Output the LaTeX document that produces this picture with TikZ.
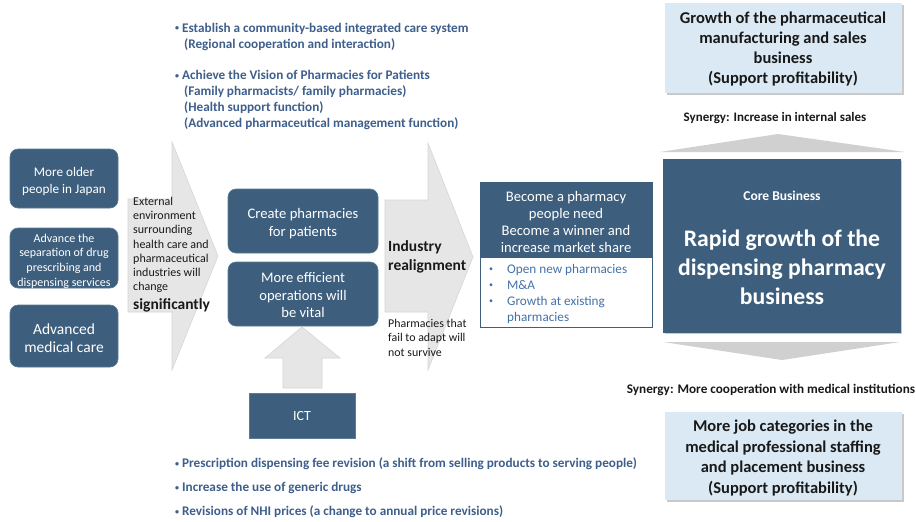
\documentclass[tikz,border=0pt]{standalone}
\usepackage{fontspec}
\setmainfont{Carlito}
\usetikzlibrary{shadows}
\definecolor{navy}{HTML}{3D5F7D}
\definecolor{navyedge}{HTML}{5A7A96}
\definecolor{listblue}{HTML}{3E5F8C}
\definecolor{bulletblue}{HTML}{4472A8}
\definecolor{paleblue}{HTML}{DAE9F3}
\definecolor{arrowgray}{HTML}{E6E6E6}
\definecolor{arrowedge}{HTML}{D6D6D6}
\definecolor{chevgray}{HTML}{D0D0D0}
\newcommand{\fs}[2]{\fontsize{#1}{#2}\selectfont}
\newcommand{\smallbul}{\raisebox{0.2ex}{\fs{8}{8}•}}
\tikzset{
  darkround/.style={fill=navy, draw=navyedge, line width=0.6pt, rounded corners=8pt},
  darkbox/.style={fill=navy, draw=navyedge, line width=0.6pt},
  softshadow/.style={drop shadow={shadow xshift=2pt, shadow yshift=-2pt, opacity=0.35, fill=black!60}},
  palebox/.style={fill=paleblue, draw=none, softshadow},
  bigarrow/.style={fill=arrowgray, draw=arrowedge, line width=0.6pt},
  chevron/.style={fill=chevgray, draw=none},
  whitetxt/.style={text=white, align=center, inner sep=0pt},
  darktxt/.style={text=black!90, align=center, inner sep=0pt},
  listtxt/.style={text=listblue, align=left, inner sep=0pt, anchor=west, font=\bfseries\fs{13.2}{16}},
}
\begin{document}
\begin{tikzpicture}[x=1pt,y=-1pt]
\useasboundingbox (0,0) rectangle (916,522);
\fill[white] (0,0) rectangle (916,522);

% large gray arrows
\draw[bigarrow] (128,199) -- (172,199) -- (172,142) -- (218,256) -- (172,370) -- (172,312) -- (128,312) -- cycle;
\draw[bigarrow] (385,200) -- (428,200) -- (428,143) -- (473,257) -- (428,370) -- (428,312) -- (385,312) -- cycle;

% left column: drivers of change
\path[darkround] (10,149) rectangle (118,208);
\node[whitetxt, font=\fs{13.2}{17}] (older) at (64,181) {More older\\people in Japan};
\path[darkround] (10,228) rectangle (118,288);
\node[whitetxt, font=\fs{12}{14.6}] (separation) at (64,261) {Advance the\\separation of drug\\prescribing and\\dispensing services};
\path[darkround] (10,305) rectangle (118,367);
\node[whitetxt, font=\fs{15.5}{18}] (medcare) at (64,338.5) {Advanced\\medical care};

\node[anchor=west, inner sep=0pt, align=left, text=black!90, font=\fs{12}{14.2}] (extenv) at (133,245)
  {External\\environment\\surrounding\\health care and\\pharmaceutical\\industries will\\change};
\node[anchor=west, inner sep=0pt, text=black!90, font=\bfseries\fs{15.5}{18}] (signif) at (133,305) {significantly};

% middle column
\path[darkround] (228,189) rectangle (378,253);
\node[whitetxt, font=\fs{14.6}{17.5}] (create) at (303,223.5) {Create pharmacies\\for patients};
\path[darkround] (228,262) rectangle (378,326);
\node[whitetxt, font=\fs{14.6}{17.5}] (efficient) at (303,295.5) {More efficient\\operations will\\be vital};

% ICT with upward arrow
\path[darkbox] (249,393) rectangle (355,438);
\node[whitetxt, font=\fs{14}{15}] (ict) at (302,416) {ICT};
\draw[fill=arrowgray, draw=arrowedge, line width=0.6pt] (283,388) -- (283,358) -- (265,358) -- (302,327) -- (340,358) -- (322,358) -- (322,388) -- cycle;

\node[anchor=west, inner sep=0pt, align=left, text=black!90, font=\bfseries\fs{15.5}{19}] (realign) at (388,257) {Industry\\realignment};
\node[anchor=west, inner sep=0pt, align=left, text=black!90, font=\fs{11.9}{14.5}] (survive) at (388,337.5) {Pharmacies that\\fail to adapt will\\not survive};

% pharmacy goals box
\draw[draw=navy, line width=1pt, fill=white] (480,182) rectangle (652,327);
\fill[navy] (480,182) rectangle (652,258);
\node[whitetxt, font=\fs{14.6}{17.3}] (become) at (566,222) {Become a pharmacy\\people need\\Become a winner and\\increase market share};
\node[anchor=west, inner sep=0pt, align=left, text=bulletblue, font=\fs{13.2}{16}] (bul1) at (489,293.5)
  {\makebox[18pt][l]{\smallbul}Open new pharmacies\\\makebox[18pt][l]{\smallbul}M\&A\\\makebox[18pt][l]{\smallbul}Growth at existing\\\hspace*{18pt}pharmacies};

% right column
\path[palebox] (665,3) rectangle (902,93);
\node[darktxt, font=\bfseries\fs{16.5}{20}] (manuf) at (783,49) {Growth of the pharmaceutical\\manufacturing and sales\\business\\(Support profitability)};
\node[darktxt, font=\bfseries\fs{13}{14}] (syn1) at (775,118) {Synergy: Increase in internal sales};
\fill[chevron] (660,152) -- (778,134) -- (905,152) -- cycle;
\path[darkbox, draw=navy, softshadow] (663,159) rectangle (900,332);
\node[whitetxt, font=\bfseries\fs{13.5}{14}] (core) at (782,196) {Core Business};
\node[whitetxt, font=\bfseries\fs{23.7}{29}] (rapid) at (782,267) {Rapid growth of the\\dispensing pharmacy\\business};
\fill[chevron] (663,342) -- (900,342) -- (782,360) -- cycle;
\node[darktxt, font=\bfseries\fs{13.2}{14}] (syn2) at (771,389.5) {Synergy: More cooperation with medical institutions};
\path[palebox] (665,412) rectangle (902,500);
\node[darktxt, font=\bfseries\fs{16.5}{20.7}] (staffing) at (783,458) {More job categories in the\\medical professional staffing\\and placement business\\(Support profitability)};

% policy lists
\node[listtxt] (policy1) at (175,36.5) {\smallbul\ Establish a community-based integrated care system\\\hspace*{9pt}(Regional cooperation and interaction)};
\node[listtxt] (policy2) at (175,100) {\smallbul\ Achieve the Vision of Pharmacies for Patients\\\hspace*{9pt}(Family pharmacists/ family pharmacies)\\\hspace*{9pt}(Health support function)\\\hspace*{9pt}(Advanced pharmaceutical management function)};
\node[listtxt] (policy3) at (175,464) {\smallbul\ Prescription dispensing fee revision (a shift from selling products to serving people)};
\node[listtxt] (policy4) at (175,488) {\smallbul\ Increase the use of generic drugs};
\node[listtxt] (policy5) at (175,512) {\smallbul\ Revisions of NHI prices (a change to annual price revisions)};
\end{tikzpicture}
\end{document}
